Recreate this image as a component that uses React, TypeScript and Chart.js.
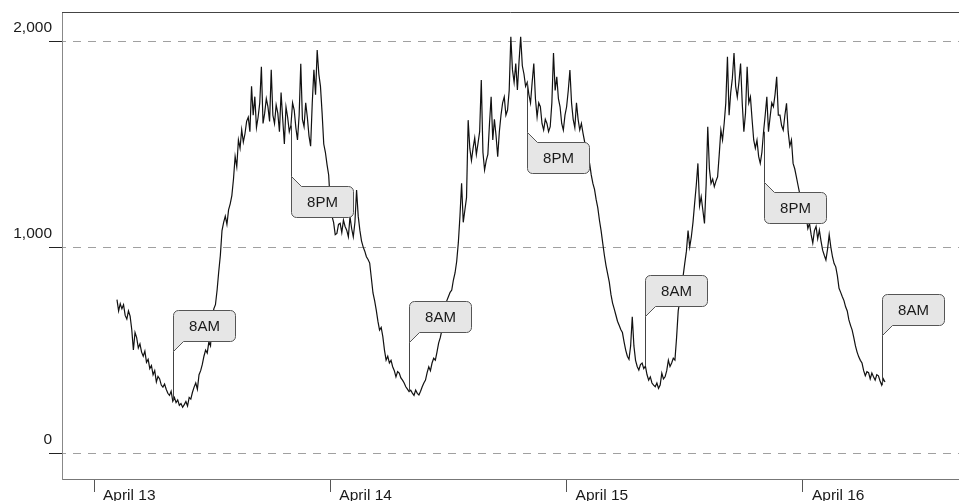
import React, { useEffect, useRef } from 'react';
import { Chart, registerables } from 'chart.js';

Chart.register(...registerables);

// Time axis is in hours since April 13, 00:00. Samples every 10 minutes.
const START_HOUR = 2 + 1 / 3;
const STEP_HOURS = 1 / 6;

// April 13, from 2:20 AM (6 samples per hour)
const apr13Values = [
  745, 690, 725, 700,
  720, 668, 650, 690, 665, 600,
  500, 585, 560, 510, 530, 490,
  470, 495, 440, 455, 410, 425,
  380, 400, 345, 372, 360, 330,
  320, 335, 310, 290, 280, 300,
  252, 270, 245, 258, 232, 240,
  222, 235, 250, 228, 270, 262,
  295, 320, 340, 310, 380, 400,
  430, 470, 500, 485, 540, 520,
  640, 700, 720, 790, 880, 960,
  1080, 1120, 1150, 1110, 1180, 1210,
  1250, 1330, 1440, 1390, 1520, 1480,
  1570, 1510, 1550, 1610, 1630, 1560,
  1780, 1640, 1730, 1580, 1630, 1700,
  1875, 1600, 1650, 1720, 1680, 1610,
  1860, 1640, 1600, 1690, 1650, 1560,
  1750, 1620, 1500, 1680, 1630, 1560,
  1590, 1700, 1665, 1580, 1520, 1640,
  1890, 1620, 1585, 1700, 1630, 1540,
  1490, 1700, 1860, 1740, 1956, 1840,
  1780, 1650, 1500, 1460, 1400, 1350,
];

// April 14
const apr14Values = [
  1210, 1150, 1120, 1060, 1066, 1110,
  1115, 1070, 1131, 1100, 1082, 1050,
  1147, 1090, 1050, 1120, 1277, 1150,
  1082, 1030, 1001, 980, 953, 940,
  922, 850, 777, 740, 694, 640,
  597, 610, 565, 500, 451, 470,
  437, 450, 419, 400, 370, 395,
  388, 365, 354, 340, 322, 310,
  298, 305, 291, 280, 306, 290,
  282, 300, 322, 340, 354, 390,
  419, 400, 437, 460, 451, 490,
  534, 560, 597, 650, 710, 740,
  760, 780, 791, 840, 874, 930,
  1020, 1150, 1309, 1120, 1180, 1240,
  1616, 1480, 1420, 1480, 1530, 1450,
  1503, 1560, 1811, 1460, 1374, 1420,
  1450, 1600, 1729, 1520, 1620, 1540,
  1438, 1560, 1640, 1700, 1729, 1640,
  1665, 1760, 2021, 1860, 1800, 1891,
  1762, 1900, 2021, 1880, 1840, 1780,
  1800, 1740, 1700, 1800, 1891, 1720,
  1632, 1700, 1681, 1600, 1568, 1620,
  1600, 1560, 1584, 1700, 1942, 1760,
  1826, 1720, 1681, 1600, 1568, 1640,
];

// April 15
const apr15Values = [
  1681, 1760, 1859, 1700, 1620, 1580,
  1700, 1620, 1568, 1600, 1552, 1510,
  1487, 1440, 1406, 1350, 1309, 1280,
  1230, 1190, 1130, 1080, 1019, 960,
  910, 870, 830, 770, 728, 700,
  670, 640, 620, 600, 585, 540,
  500, 470, 455, 520, 662, 520,
  450, 420, 403, 430, 437, 410,
  422, 380, 354, 370, 340, 330,
  322, 340, 314, 330, 388, 360,
  370, 400, 451, 420, 437, 460,
  451, 560, 690, 740, 800, 860,
  922, 980, 1080, 1000, 1050, 1120,
  1212, 1300, 1406, 1200, 1244, 1180,
  1115, 1300, 1584, 1380, 1309, 1330,
  1293, 1320, 1341, 1450, 1568, 1520,
  1600, 1700, 1924, 1640, 1750, 1820,
  1942, 1780, 1729, 1800, 1891, 1700,
  1560, 1650, 1875, 1700, 1729, 1620,
  1520, 1480, 1519, 1440, 1406, 1460,
  1560, 1640, 1729, 1560, 1632, 1700,
  1681, 1740, 1826, 1640, 1640, 1590,
  1568, 1640, 1698, 1560, 1490, 1520,
  1406, 1380, 1341, 1300, 1260, 1230,
];

// April 16, until 8:20 AM
const apr16Values = [
  1200, 1170, 1147, 1090, 1115, 1060,
  1019, 1080, 1100, 1040, 1082, 1030,
  985, 960, 937, 990, 1060, 1000,
  953, 920, 904, 860, 800, 780,
  759, 740, 710, 690, 646, 620,
  597, 560, 520, 490, 467, 450,
  437, 400, 375, 395, 390, 360,
  388, 370, 354, 380, 375, 350,
  330, 360, 345,
];

const allValues = [...apr13Values, ...apr14Values, ...apr15Values, ...apr16Values];

const dayTickHours = [0, 24, 48, 72];
const dayTickLabels = ['April 13', 'April 14', 'April 15', 'April 16'];
const yTickValues = [0, 1000, 2000];

const annotationHours = [8, 20, 32, 44, 56, 68, 80];
const annotationLabels = ['8AM', '8PM', '8AM', '8PM', '8AM', '8PM', '8AM'];
const annotationSides = ['above', 'below', 'above', 'below', 'above', 'below', 'above'];

const FONT = '"Liberation Sans", Arial, Helvetica, sans-serif';

const topBorderPlugin = {
  id: 'topBorder',
  afterDraw(chart: any) {
    const { ctx, chartArea } = chart;
    ctx.save();
    ctx.strokeStyle = '#444';
    ctx.lineWidth = 1;
    ctx.beginPath();
    ctx.moveTo(chartArea.left, chartArea.top + 0.5);
    ctx.lineTo(chartArea.right, chartArea.top + 0.5);
    ctx.stroke();
    ctx.restore();
  },
};

const calloutPlugin = {
  id: 'callouts',
  afterDatasetsDraw(chart: any) {
    const { ctx } = chart;
    const xs = chart.scales.x;
    const ys = chart.scales.y;
    const W = 62;
    const H = 31;
    const gap = 10;
    const dist = 50;
    const r = 5;
    ctx.save();
    annotationHours.forEach((hour, i) => {
      const idx = Math.round((hour - START_HOUR) / STEP_HOURS);
      const value = allValues[Math.max(0, Math.min(allValues.length - 1, idx))];
      const x = Math.round(xs.getPixelForValue(hour)) + 0.5;
      const py = ys.getPixelForValue(value);
      const above = annotationSides[i] === 'above';
      const tipY = Math.round(above ? py - dist : py + dist) + 0.5;
      const right = x + W;
      ctx.beginPath();
      if (above) {
        const top = tipY - gap - H;
        const bottom = tipY - gap;
        ctx.moveTo(x, tipY);
        ctx.lineTo(x, top + r);
        ctx.arcTo(x, top, x + r, top, r);
        ctx.lineTo(right - r, top);
        ctx.arcTo(right, top, right, top + r, r);
        ctx.lineTo(right, bottom - r);
        ctx.arcTo(right, bottom, right - r, bottom, r);
        ctx.lineTo(x + gap, bottom);
        ctx.closePath();
      } else {
        const top = tipY + gap;
        const bottom = tipY + gap + H;
        ctx.moveTo(x, tipY);
        ctx.lineTo(x + gap, top);
        ctx.lineTo(right - r, top);
        ctx.arcTo(right, top, right, top + r, r);
        ctx.lineTo(right, bottom - r);
        ctx.arcTo(right, bottom, right - r, bottom, r);
        ctx.lineTo(x + r, bottom);
        ctx.arcTo(x, bottom, x, bottom - r, r);
        ctx.closePath();
      }
      ctx.fillStyle = '#e6e6e6';
      ctx.fill();
      ctx.strokeStyle = '#555';
      ctx.lineWidth = 1;
      ctx.stroke();
      // connector to the data point
      ctx.beginPath();
      ctx.moveTo(x, tipY);
      ctx.lineTo(x, py);
      ctx.strokeStyle = '#444';
      ctx.stroke();
      // text
      ctx.fillStyle = '#1a1a1a';
      ctx.font = `15px ${FONT}`;
      ctx.textAlign = 'center';
      ctx.textBaseline = 'middle';
      const cy = above ? tipY - gap - H / 2 : tipY + gap + H / 2;
      ctx.fillText(annotationLabels[i], x + W / 2, cy + 1);
    });
    ctx.restore();
  },
};

export default function App() {
  const canvasRef = useRef<HTMLCanvasElement | null>(null);

  useEffect(() => {
    const canvas = canvasRef.current;
    if (!canvas) return;
    const points = allValues.map((v, i) => ({ x: START_HOUR + i * STEP_HOURS, y: v }));
    const chart = new Chart(canvas, {
      type: 'line',
      data: {
        datasets: [
          {
            data: points,
            borderColor: '#111',
            borderWidth: 1.2,
            pointRadius: 0,
            tension: 0,
            fill: false,
          },
        ],
      },
      options: {
        animation: false,
        responsive: false,
        maintainAspectRatio: false,
        devicePixelRatio: 1,
        layout: { padding: { top: 12, right: 0, left: 0, bottom: 0 } },
        plugins: {
          legend: { display: false },
          tooltip: { enabled: false },
        },
        scales: {
          x: {
            type: 'linear',
            min: -3.25,
            max: 87.85,
            afterBuildTicks: (s: any) => {
              s.ticks = dayTickHours.map((v) => ({ value: v }));
            },
            afterFit: (s: any) => {
              s.height = 22;
              s.paddingLeft = 0;
              s.paddingRight = 0;
            },
            grid: {
              drawOnChartArea: false,
              drawTicks: true,
              tickLength: 13,
              tickColor: '#555',
              tickWidth: 1,
            },
            border: { display: true, color: '#777', width: 1 },
            ticks: {
              align: 'start',
              labelOffset: 9,
              padding: -6,
              autoSkip: false,
              maxRotation: 0,
              color: '#1a1a1a',
              font: { family: FONT, size: 15.5 },
              callback: (v: any) => {
                const k = dayTickHours.indexOf(Number(v));
                return k >= 0 ? dayTickLabels[k] : '';
              },
            },
          },
          y: {
            type: 'linear',
            min: -126,
            max: 2141,
            afterBuildTicks: (s: any) => {
              s.ticks = yTickValues.map((v) => ({ value: v }));
            },
            afterFit: (s: any) => {
              s.width = 62;
            },
            grid: {
              color: '#a0a0a0',
              lineWidth: 1,
              drawTicks: true,
              tickLength: 13,
              tickColor: '#222',
              tickWidth: 1,
              tickBorderDash: [],
            },
            border: { display: true, color: '#888', width: 1, dash: [8, 7], dashOffset: 5 },
            ticks: {
              labelOffset: -13.5,
              padding: -3,
              color: '#1a1a1a',
              font: { family: FONT, size: 15.5 },
              callback: (v: any) => Number(v).toLocaleString('en-US'),
            },
          },
        },
      } as any,
      plugins: [calloutPlugin, topBorderPlugin],
    });
    return () => chart.destroy();
  }, []);

  return (
    <div style={{ position: 'absolute', left: 0, top: 0, width: 959, height: 501, background: '#fff' }}>
      <canvas ref={canvasRef} width={959} height={501} style={{ display: 'block', width: 959, height: 501 }} />
    </div>
  );
}
